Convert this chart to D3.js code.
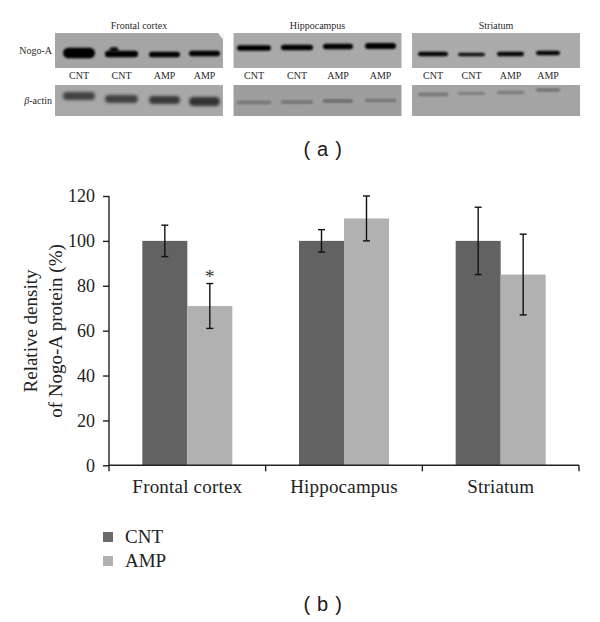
<!DOCTYPE html>
<html><head><meta charset="utf-8">
<script src="https://cdn.jsdelivr.net/npm/d3@7/dist/d3.min.js"></script>
<style>html,body{margin:0;padding:0;background:#fff}svg{display:block}</style>
</head><body><svg id="c" width="600" height="622"></svg>
<script>
const regions = ["Frontal cortex","Hippocampus","Striatum"];
const seriesNames = ["CNT","AMP"];
const cntValues = [100,100,100];
const ampValues = [71,110,85];
const cntLow = [93,95,85];
const cntHigh = [107,105,115];
const ampLow = [61,100,67];
const ampHigh = [81,120,103];
const yTicks = [0,20,40,60,80,100,120];
const laneLabels = ["CNT","CNT","AMP","AMP"];
const nogoDensity = [[1,1,1,1],[1,1,1,1],[.97,.93,.97,.97]];
const actinDensity = [[.72,.72,.78,.82],[.42,.42,.5,.42],[.45,.35,.38,.45]];

const svg = d3.select("#c");
const serif = "'Liberation Serif', serif";
const dark = "#626262", light = "#b1b1b1";

const defs = svg.append("defs");
const blur = (id,s)=>defs.append("filter").attr("id",id).attr("x","-30%").attr("y","-150%").attr("width","160%").attr("height","400%")
  .append("feGaussianBlur").attr("stdDeviation",s);
blur("b1",0.8); blur("b2",1.7);

// (a) blots: layout of each panel
const panelX = d3.scaleBand().domain(regions).range([55,580]).paddingInner(10/169).paddingOuter(0);
const layouts = [
 {x:[[63,95],[105,138],[149,180],[189,220]],
  nogoY:[53,54,54.5,53.5], nogoT:[10.5,6.5,5.5,5.5],
  actY:[96,99,100,101.5], actT:[8,8,8,9], bg1:"#a5a5a5", bg2:"#a8a8a8", blurA:"url(#b2)"},
 {x:[[237,271],[281,313],[323,353],[365,396]],
  nogoY:[48,47.5,46.5,46], nogoT:[5.5,5.5,5.5,6],
  actY:[102.5,102,101,100.5], actT:[2.5,2.5,2.5,2.5], bg1:"#a9a9a9", bg2:"#9e9e9e", blurA:"url(#b1)"},
 {x:[[418,448],[458,485],[497,524],[536,560]],
  nogoY:[54,54.5,54,53], nogoT:[4.5,3.6,4.5,4.5],
  actY:[94.5,93.5,92.5,90], actT:[2.5,2.2,2.5,2.5], bg1:"#ababab", bg2:"#a4a4a4", blurA:"url(#b1)"}
];
const blotLabel = (s,x,y,anchor="middle") => s.append("text").attr("x",x).attr("y",y)
  .attr("font-family",serif).attr("font-size",10).attr("text-anchor",anchor).attr("fill","#2a2a2a");

regions.forEach((r,i)=>{
  const x0 = panelX(r), w = panelX.bandwidth(), L = layouts[i];
  const g = svg.append("g");
  blotLabel(g,x0+w/2,29).text(r);
  g.append("rect").attr("x",x0).attr("y",33).attr("width",w).attr("height",35).attr("fill",L.bg1);
  g.append("rect").attr("x",x0).attr("y",85).attr("width",w).attr("height",31).attr("fill",L.bg2);
  const g1 = g.append("g").attr("filter","url(#b1)");
  const g2 = g.append("g").attr("filter",L.blurA);
  L.x.forEach(([a,b],j)=>{
    g1.append("rect").attr("x",a).attr("width",b-a).attr("y",L.nogoY[j]-L.nogoT[j]/2).attr("height",L.nogoT[j])
      .attr("rx",L.nogoT[j]/2).attr("fill","#050505").attr("opacity",nogoDensity[i][j]);
    g2.append("rect").attr("x",a).attr("width",b-a).attr("y",L.actY[j]-L.actT[j]/2).attr("height",L.actT[j])
      .attr("rx",L.actT[j]/2).attr("fill","#1a1a1a").attr("opacity",actinDensity[i][j]);
    blotLabel(g,(a+b)/2,79).text(laneLabels[j]);
  });
});
// frontal cortex: bump on second band and white corner of the scan
svg.append("ellipse").attr("cx",114).attr("cy",50).attr("rx",4.5).attr("ry",3).attr("fill","#0a0a0a").attr("filter","url(#b1)");
svg.append("path").attr("d","M218,33H224V41Z").attr("fill","#f4f4f4");

blotLabel(svg,52,53.5,"end").text("Nogo-A");
const ba = blotLabel(svg,52,104,"end");
ba.append("tspan").attr("font-style","italic").text("β");
ba.append("tspan").text("-actin");

const capLabel = (t,x,y)=>svg.append("text").attr("x",x).attr("y",y).attr("text-anchor","middle")
  .attr("font-family","'Liberation Sans', Arial, sans-serif").attr("font-size",20).attr("letter-spacing",.7).attr("fill","#1a1a1a").text(t);
capLabel("( a )",323,155.5);
capLabel("( b )",323,611);

// (b) chart
const x = d3.scaleBand().domain(regions).range([109,579]);
const inner = d3.scaleBand().domain(seriesNames).range([0,90]);
const y = d3.scaleLinear().domain([0,120]).range([465.3,196]);
const values = {CNT:cntValues, AMP:ampValues}, lows={CNT:cntLow,AMP:ampLow}, highs={CNT:cntHigh,AMP:ampHigh};
const color = d3.scaleOrdinal().domain(seriesNames).range([dark,light]);
const offset = r => x(r)+x.bandwidth()/2-45;

seriesNames.forEach(s=>{
  const rows = regions.map((r,i)=>({r,v:values[s][i],lo:lows[s][i],hi:highs[s][i]}));
  svg.append("g").selectAll("rect").data(rows).join("rect")
    .attr("x",d=>offset(d.r)+inner(s)).attr("width",inner.bandwidth())
    .attr("y",d=>y(d.v)).attr("height",d=>y(0)-y(d.v)).attr("fill",color(s));
  const e = svg.append("g").attr("stroke","#111").attr("stroke-width",1.4).attr("fill","none");
  rows.forEach(d=>{
    const cx = offset(d.r)+inner(s)+inner.bandwidth()/2;
    e.append("line").attr("x1",cx).attr("x2",cx).attr("y1",y(d.lo)).attr("y2",y(d.hi));
    [d.lo,d.hi].forEach(v=>e.append("line").attr("x1",cx-3.5).attr("x2",cx+3.5).attr("y1",y(v)).attr("y2",y(v)));
  });
});
svg.append("text").attr("x",offset(regions[0])+inner("AMP")+inner.bandwidth()/2).attr("y",y(ampHigh[0])-1)
  .attr("text-anchor","middle").attr("font-family",serif).attr("font-size",19).attr("fill","#333").text("*");

const yAxis = d3.axisLeft(y).tickValues(yTicks).tickSize(6).tickPadding(8);
const gy = svg.append("g").attr("transform","translate(109,0)").call(yAxis);
const xAxis = d3.axisBottom(x).tickValues([]).tickSizeOuter(0);
const gx = svg.append("g").attr("transform",`translate(0,${y(0)})`).call(xAxis);
gx.selectAll(".tk").data(d3.range(4)).join("line").attr("class","tk")
  .attr("x1",i=>109+i*x.step()).attr("x2",i=>109+i*x.step()).attr("y1",0).attr("y2",6);
[gy,gx].forEach(g=>{g.selectAll(".domain,line").attr("stroke","#222").attr("stroke-width",1.4);
  g.selectAll("text").attr("font-family",serif).attr("font-size",18).attr("fill","#222");});
gy.select(".domain").attr("d","M0,196V465.3");
gx.select(".domain").attr("d","M109,0H579");

svg.append("g").selectAll("text").data(regions).join("text")
  .attr("x",d=>x(d)+x.bandwidth()/2).attr("y",492.5).attr("text-anchor","middle")
  .attr("font-family",serif).attr("font-size",19).attr("letter-spacing",.2).attr("fill","#222").text(d=>d);

const yt = svg.append("text").attr("transform","translate(36.5,331) rotate(-90)").attr("text-anchor","middle")
  .attr("font-family",serif).attr("font-size",19).attr("fill","#222");
yt.append("tspan").attr("x",0).attr("y",0).text("Relative density");
yt.append("tspan").attr("x",0).attr("y",25).text("of Nogo-A protein (%)");

const lg = svg.append("g").selectAll("g").data(seriesNames).join("g")
  .attr("transform",(d,i)=>`translate(103,${532+i*24})`);
lg.append("rect").attr("width",10).attr("height",10).attr("fill",d=>d=="CNT"?"#6b6b6b":light);
lg.append("text").attr("x",22).attr("y",10.5).attr("font-family",serif).attr("font-size",19).attr("fill","#222").text(d=>d);
</script></body></html>
